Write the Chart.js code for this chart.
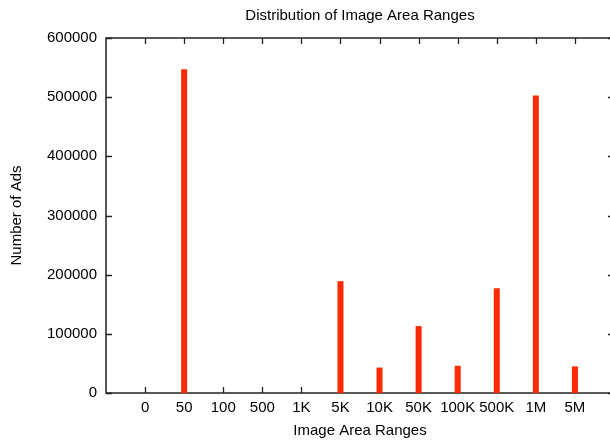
<!DOCTYPE html>
<html>
<head>
<meta charset="utf-8">
<script src="https://cdn.jsdelivr.net/npm/chart.js@4"></script>
<style>
    html, body { margin: 0; padding: 0; background: #fff; overflow: hidden; }
    #wrap { width: 610px; height: 440px; overflow: hidden; }
</style>
</head>
<body>
<div id="wrap"><canvas id="chart" width="620" height="440"></canvas></div>
<script>
// Chart data
const categories = ['0', '50', '100', '500', '1K', '5K', '10K', '50K', '100K', '500K', '1M', '5M'];
const adCounts = [0, 547000, 0, 0, 0, 189000, 43000, 113000, 46000, 177000, 503000, 45000];
const yTicks = [0, 100000, 200000, 300000, 400000, 500000, 600000];

const FONT = { family: 'Liberation Sans, Arial, sans-serif', size: 15 };

// gnuplot-like frame with inward ticks on all four sides (under the bars)
const framePlugin = {
    id: 'frame',
    beforeDatasetsDraw(chart) {
        const { ctx, chartArea: a, scales } = chart;
        const len = 6;
        ctx.save();
        ctx.strokeStyle = '#222';
        ctx.lineWidth = 1.5;
        ctx.strokeRect(a.left, a.top, a.right - a.left, a.bottom - a.top);
        ctx.lineWidth = 1.3;
        ctx.beginPath();
        categories.forEach(function (c, i) {
            const x = Math.round(scales.x.getPixelForValue(i)) + 0.5;
            ctx.moveTo(x, a.bottom); ctx.lineTo(x, a.bottom - len);
            ctx.moveTo(x, a.top); ctx.lineTo(x, a.top + len);
        });
        yTicks.forEach(function (v) {
            const y = Math.round(scales.y.getPixelForValue(v)) + 0.5;
            ctx.moveTo(a.left, y); ctx.lineTo(a.left + len, y);
            ctx.moveTo(a.right, y); ctx.lineTo(a.right - len, y);
        });
        ctx.stroke();
        ctx.restore();
    }
};

const ctx = document.getElementById('chart').getContext('2d');
new Chart(ctx, {
    type: 'bar',
    data: {
        datasets: [{
            label: 'Number of Ads',
            data: adCounts.map(function (v, i) { return { x: i, y: v }; }),
            backgroundColor: '#ff2a00',
            barThickness: 6,
            borderWidth: 0,
            inflateAmount: 0
        }]
    },
    options: {
        responsive: false,
        animation: false,
        devicePixelRatio: 1,
        layout: { padding: 0 },
        plugins: {
            legend: { display: false },
            tooltip: { enabled: false }
        },
        scales: {
            x: {
                type: 'linear',
                offset: false,
                min: -1,
                max: 12,
                grid: { display: false, drawTicks: false },
                border: { display: false },
                ticks: {
                    stepSize: 1,
                    color: '#000',
                    font: FONT,
                    padding: 6,
                    maxRotation: 0,
                    autoSkip: false,
                    callback: function (v) { return categories[v] !== undefined ? categories[v] : ''; }
                },
                title: {
                    display: true,
                    text: 'Image Area Ranges',
                    color: '#000',
                    font: FONT,
                    padding: { top: 0, bottom: 0 }
                },
                afterFit: function (s) { s.height = 47; }
            },
            // top axis only carries the chart title, centred over the plot
            xTop: {
                type: 'linear',
                position: 'top',
                offset: false,
                min: -1,
                max: 12,
                grid: { display: false, drawTicks: false },
                border: { display: false },
                ticks: { display: false },
                title: {
                    display: true,
                    text: 'Distribution of Image Area Ranges',
                    color: '#000',
                    font: FONT,
                    padding: { top: 6.5, bottom: 0 }
                },
                afterFit: function (s) { s.height = 38; }
            },
            y: {
                min: 0,
                max: 600000,
                grid: { display: false, drawTicks: false },
                border: { display: false },
                ticks: {
                    stepSize: 100000,
                    color: '#000',
                    font: FONT,
                    padding: 9,
                    callback: function (v) { return String(v); }
                },
                title: {
                    display: true,
                    text: 'Number of Ads',
                    color: '#000',
                    font: FONT,
                    padding: { top: 7.5, bottom: 0 }
                },
                afterFit: function (s) { s.width = 106; }
            }
        }
    },
    plugins: [framePlugin]
});
</script>
</body>
</html>
